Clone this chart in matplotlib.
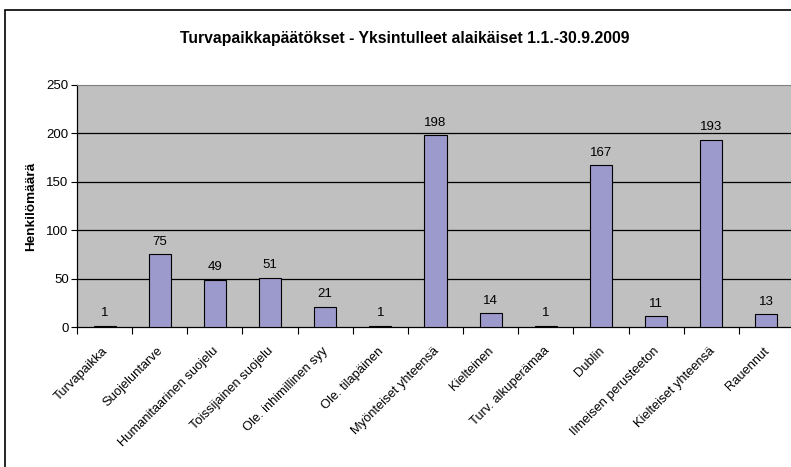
import numpy as np
import matplotlib
matplotlib.use("Agg")
from matplotlib import pyplot as plt
from matplotlib.patches import Rectangle
from matplotlib.transforms import ScaledTranslation

categories = ['Turvapaikka', 'Suojeluntarve', 'Humanitaarinen suojelu',
              'Toissijainen suojelu', 'Ole. inhimillinen syy', 'Ole. tilapäinen',
              'Myönteiset yhteensä', 'Kielteinen', 'Turv. alkuperämaa', 'Dublin',
              'Ilmeisen perusteeton', 'Kielteiset yhteensä', 'Rauennut']
values = [1, 75, 49, 51, 21, 1, 198, 14, 1, 167, 11, 193, 13]
yticks = [0, 50, 100, 150, 200, 250]

plt.rcParams['font.family'] = ['Liberation Sans', 'DejaVu Sans']

fig = plt.figure(figsize=(7.91, 4.67), dpi=100)
W, H = 791, 467

# outer chart border (runs off the right and bottom edges)
fig.patches.append(Rectangle((5 / W, -0.1), 1.2, 1 - 10 / H + 0.1,
                             transform=fig.transFigure, fill=False,
                             edgecolor='black', linewidth=1.2))

ax = fig.add_axes([77 / W, 1 - 327 / H, (794 - 77) / W, (327 - 85) / H])
ax.set_facecolor('#C0C0C0')

x = np.arange(len(categories))
ax.bar(x, values, width=0.4, color='#9C99CC', edgecolor='black', linewidth=0.8, zorder=3)
for xi, v in zip(x, values):
    ax.text(xi, v + 7, str(v), ha='center', va='bottom', fontsize=9.5, zorder=4)

ax.set_xlim(-0.5, len(categories) - 0.5)
ax.set_ylim(0, 250)
ax.set_yticks(yticks)
ax.tick_params(axis='y', labelsize=9.5, length=4, width=0.8, pad=2)
for y in yticks[1:-1]:
    ax.axhline(y, color='black', linewidth=0.9, zorder=1)

# labels at category centres, tick marks at boundaries
ax.set_xticks(x)
ax.set_xticklabels(categories, rotation=45, ha='right', rotation_mode='anchor', fontsize=9.3)
ax.tick_params(axis='x', which='major', length=0, pad=13)
shift = ScaledTranslation(-2 / 72, 0, fig.dpi_scale_trans)
for lbl in ax.get_xticklabels():
    lbl.set_transform(lbl.get_transform() + shift)
ax.set_xticks(np.arange(len(categories) + 1) - 0.5, minor=True)
ax.tick_params(axis='x', which='minor', length=5, width=0.8)

ax.spines['top'].set_color('#808080')
ax.spines['right'].set_visible(False)
ax.spines['left'].set_linewidth(0.9)
ax.spines['bottom'].set_linewidth(0.9)

ax.set_ylabel('Henkilömäärä', fontsize=9.7, fontweight='bold', labelpad=7)
fig.text(405 / W, 1 - 38 / H, 'Turvapaikkapäätökset - Yksintulleet alaikäiset 1.1.-30.9.2009',
         ha='center', va='center', fontsize=11.3, fontweight='bold')

fig.savefig('out.png', dpi=100)
